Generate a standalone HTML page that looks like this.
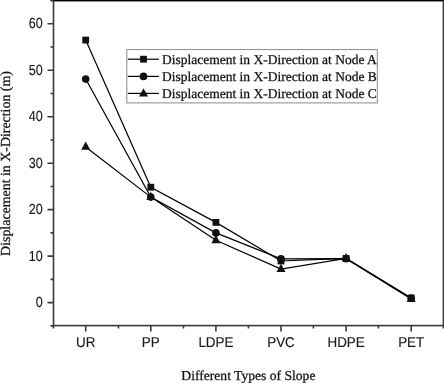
<!DOCTYPE html>
<html><head><meta charset="utf-8"><style>
html,body{margin:0;padding:0;background:#fff;width:444px;height:383px;overflow:hidden}
svg{display:block;text-rendering:geometricPrecision}
#w{width:444px;height:383px;will-change:transform}
.s{font-family:"Liberation Sans",sans-serif;font-size:13.7px;fill:#1a1a1a;stroke:#1a1a1a;stroke-width:0.15px}
.r{font-family:"Liberation Serif",serif;font-size:13.5px;fill:#111;stroke:#111;stroke-width:0.25px}
</style></head><body>
<div id="w"><svg width="444" height="383" viewBox="0 0 444 383">
<rect x="53.5" y="0.5" width="389.90" height="325.10" fill="none" stroke="#3a3a3a" stroke-width="1.6"/>
<line x1="50.5" y1="0.5" x2="443.4" y2="0.5" stroke="#000" stroke-width="1.6"/>
<path d="M50.50 325.84H53.50 M47.50 302.60H53.50 M50.50 279.37H53.50 M47.50 256.13H53.50 M50.50 232.90H53.50 M47.50 209.66H53.50 M50.50 186.43H53.50 M47.50 163.19H53.50 M50.50 139.96H53.50 M47.50 116.72H53.50 M50.50 93.49H53.50 M47.50 70.25H53.50 M50.50 47.02H53.50 M47.50 23.78H53.50 M50.50 0.55H53.50 M85.70 325.60V331.60 M150.80 325.60V331.60 M215.90 325.60V331.60 M281.00 325.60V331.60 M346.10 325.60V331.60 M411.20 325.60V331.60 M53.50 325.60V328.60 M118.48 325.60V328.60 M183.47 325.60V328.60 M248.45 325.60V328.60 M313.43 325.60V328.60 M378.42 325.60V328.60 M443.40 325.60V328.60" stroke="#3a3a3a" stroke-width="1.6" fill="none"/>
<text transform="translate(42.7,307.25) scale(0.86,1)" text-anchor="end" class="s" style="font-size:14.6px">0</text>
<text transform="translate(42.7,260.78) scale(0.86,1)" text-anchor="end" class="s" style="font-size:14.6px">10</text>
<text transform="translate(42.7,214.31) scale(0.86,1)" text-anchor="end" class="s" style="font-size:14.6px">20</text>
<text transform="translate(42.7,167.84) scale(0.86,1)" text-anchor="end" class="s" style="font-size:14.6px">30</text>
<text transform="translate(42.7,121.37) scale(0.86,1)" text-anchor="end" class="s" style="font-size:14.6px">40</text>
<text transform="translate(42.7,74.90) scale(0.86,1)" text-anchor="end" class="s" style="font-size:14.6px">50</text>
<text transform="translate(42.7,28.43) scale(0.86,1)" text-anchor="end" class="s" style="font-size:14.6px">60</text>
<text transform="translate(85.70,347.4) scale(0.945,1)" text-anchor="middle" class="s" style="font-size:14.2px">UR</text>
<text transform="translate(150.80,347.4) scale(0.945,1)" text-anchor="middle" class="s" style="font-size:14.2px">PP</text>
<text transform="translate(215.90,347.4) scale(0.945,1)" text-anchor="middle" class="s" style="font-size:14.2px">LDPE</text>
<text transform="translate(281.00,347.4) scale(0.945,1)" text-anchor="middle" class="s" style="font-size:14.2px">PVC</text>
<text transform="translate(346.10,347.4) scale(0.945,1)" text-anchor="middle" class="s" style="font-size:14.2px">HDPE</text>
<text transform="translate(411.20,347.4) scale(0.945,1)" text-anchor="middle" class="s" style="font-size:14.2px">PET</text>
<polyline points="85.70,40.04 150.80,187.21 215.90,222.39 281.00,261.01 346.10,258.45 411.20,297.95" fill="none" stroke="#000" stroke-width="1.2"/>
<polyline points="85.70,79.08 150.80,197.11 215.90,232.90 281.00,258.92 346.10,258.69 411.20,298.19" fill="none" stroke="#000" stroke-width="1.2"/>
<polyline points="85.70,146.93 150.80,197.11 215.90,240.33 281.00,269.14 346.10,258.45 411.20,299.11" fill="none" stroke="#000" stroke-width="1.2"/>
<g fill="#111"><rect x="82.30" y="36.64" width="6.80" height="6.80"/><rect x="147.40" y="183.81" width="6.80" height="6.80"/><rect x="212.50" y="218.99" width="6.80" height="6.80"/><rect x="277.60" y="257.61" width="6.80" height="6.80"/><rect x="342.70" y="255.05" width="6.80" height="6.80"/><rect x="407.80" y="294.55" width="6.80" height="6.80"/></g>
<g fill="#111"><circle cx="85.70" cy="79.08" r="3.80"/><circle cx="150.80" cy="197.11" r="3.80"/><circle cx="215.90" cy="232.90" r="3.80"/><circle cx="281.00" cy="258.92" r="3.80"/><circle cx="346.10" cy="258.69" r="3.80"/><circle cx="411.20" cy="298.19" r="3.80"/></g>
<g fill="#111"><polygon points="85.70,141.53 81.20,149.73 90.20,149.73"/><polygon points="150.80,191.71 146.30,199.91 155.30,199.91"/><polygon points="215.90,234.93 211.40,243.13 220.40,243.13"/><polygon points="281.00,263.74 276.50,271.94 285.50,271.94"/><polygon points="346.10,253.05 341.60,261.25 350.60,261.25"/><polygon points="411.20,293.71 406.70,301.91 415.70,301.91"/></g>
<rect x="126.8" y="49.6" width="250.50" height="53.30" fill="#fff" stroke="#8a8a8a" stroke-width="1"/>
<line x1="127.8" y1="59.2" x2="158.9" y2="59.2" stroke="#000" stroke-width="1.2"/>
<g fill="#111"><rect x="140.10" y="55.80" width="6.80" height="6.80"/></g>
<text x="162.0" y="64.00" class="r">Displacement in X-Direction at Node A</text>
<line x1="127.8" y1="76.4" x2="158.9" y2="76.4" stroke="#000" stroke-width="1.2"/>
<g fill="#111"><circle cx="143.50" cy="76.40" r="3.80"/></g>
<text x="162.0" y="81.20" class="r">Displacement in X-Direction at Node B</text>
<line x1="127.8" y1="93.4" x2="158.9" y2="93.4" stroke="#000" stroke-width="1.2"/>
<g fill="#111"><polygon points="143.50,88.30 139.00,96.50 148.00,96.50"/></g>
<text x="162.0" y="98.20" class="r">Displacement in X-Direction at Node C</text>
<text x="248.4" y="379.8" text-anchor="middle" class="r" style="font-size:13.6px">Different Types of Slope</text>
<text transform="translate(10.0,163.5) rotate(-90)" x="0" y="0" text-anchor="middle" class="r" style="font-size:13.9px">Displacement in X-Direction (m)</text>
</svg></div>
</body></html>
